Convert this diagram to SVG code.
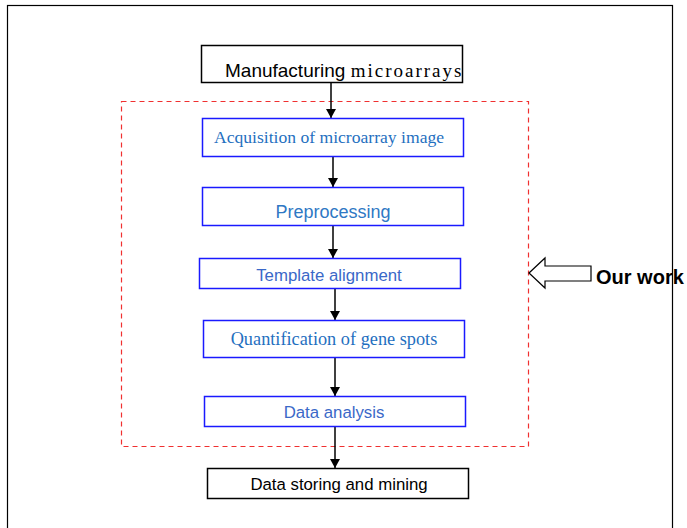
<svg xmlns="http://www.w3.org/2000/svg" width="687" height="528" viewBox="0 0 687 528">
<defs>
<marker id="ah" markerWidth="10" markerHeight="10" refX="9" refY="5" orient="auto" markerUnits="userSpaceOnUse"><path d="M0,0 L9,5 L0,10 Z" fill="#000"/></marker>
</defs>
<style>
.bk{fill:#fff;stroke:#000;stroke-width:1.5}
.bl{fill:#fff;stroke:#1a1aff;stroke-width:1.5}
.sans{font-family:"Liberation Sans",Arial,sans-serif}
.serif{font-family:"Liberation Serif","Times New Roman",serif}
.c{stroke:#000;stroke-width:1.5;fill:none;marker-end:url(#ah)}
</style>
<rect x="0" y="0" width="687" height="528" fill="#fff"/>
<rect x="7.5" y="5.5" width="665" height="530" fill="none" stroke="#000" stroke-width="1.2"/>
<rect x="121.5" y="101.5" width="407" height="345" fill="none" stroke="#f03030" stroke-width="1.2" stroke-dasharray="5,4"/>
<g id="connectors">
<line class="c" x1="331" y1="82" x2="331" y2="118"/>
<line class="c" x1="333" y1="156" x2="333" y2="187"/>
<line class="c" x1="333" y1="225" x2="333" y2="258"/>
<line class="c" x1="335" y1="288" x2="335" y2="320"/>
<line class="c" x1="335" y1="357" x2="335" y2="396"/>
<line class="c" x1="335" y1="426" x2="335" y2="468"/>
</g>
<g id="n1"><rect class="bk" x="201.5" y="45.5" width="261" height="37"/>
<text x="225" y="77" font-size="19" fill="#000"><tspan class="sans">Manufacturing </tspan><tspan class="serif" letter-spacing="2">microarrays</tspan></text></g>
<g id="n2"><rect class="bl" x="202.5" y="118.5" width="261" height="38"/>
<text class="serif" x="329" y="143" text-anchor="middle" font-size="17.6" fill="#1f6fc0">Acquisition of microarray image</text></g>
<g id="n3"><rect class="bl" x="202.5" y="187.5" width="261" height="38"/>
<text class="sans" x="333" y="218" text-anchor="middle" font-size="18" fill="#2f78c4">Preprocessing</text></g>
<g id="n4"><rect class="bl" x="199.5" y="258.5" width="261" height="30"/>
<text class="sans" x="329" y="281" text-anchor="middle" font-size="16.8" fill="#3a68c8">Template alignment</text></g>
<g id="n5"><rect class="bl" x="203.5" y="320.5" width="261" height="37"/>
<text class="serif" x="334" y="345" text-anchor="middle" font-size="18.3" fill="#1f6fc0">Quantification of gene spots</text></g>
<g id="n6"><rect class="bl" x="204.5" y="396.5" width="261" height="30"/>
<text class="sans" x="334" y="418" text-anchor="middle" font-size="16.8" fill="#3a68c8">Data analysis</text></g>
<g id="n7"><rect class="bk" x="207.5" y="468.5" width="261" height="30"/>
<text class="sans" x="339" y="490" text-anchor="middle" font-size="16.8" fill="#000">Data storing and mining</text></g>
<g id="ourwork"><polygon points="529,273 545,258 545,266 591,266 591,281 545,281 545,288" fill="#fff" stroke="#000" stroke-width="1.2"/>
<text class="sans" x="596" y="284" font-size="20" font-weight="bold" fill="#000">Our work</text></g>
</svg>
